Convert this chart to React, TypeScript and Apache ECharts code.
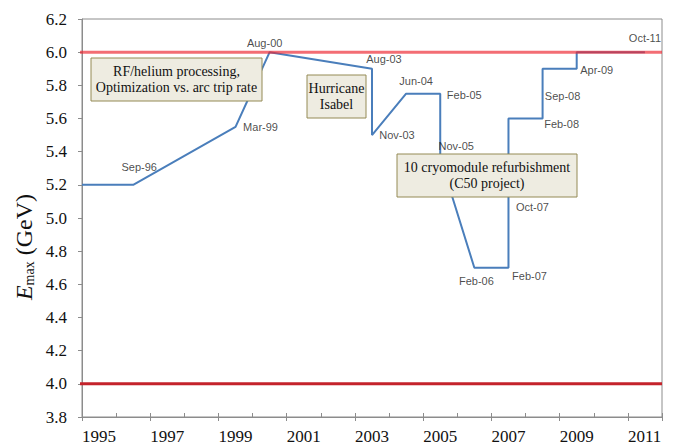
import React, { useEffect, useRef } from "react";
import * as echarts from "echarts";

// Beam energy history (x in years, y in GeV)
const lineX = [1995, 1996.5, 1999.5, 2000.5, 2003.5, 2003.5, 2004.5, 2005.5, 2005.5, 2006.5, 2007.5, 2007.5, 2008.5, 2008.5, 2009.5, 2009.5, 2011.5];
const lineY = [5.2, 5.2, 5.55, 6.0, 5.9, 5.5, 5.75, 5.75, 5.36, 4.7, 4.7, 5.6, 5.6, 5.9, 5.9, 6.0, 6.0];

// date labels and the vertex each one belongs to
const labelNames = ["Sep-96", "Mar-99", "Aug-00", "Aug-03", "Nov-03", "Jun-04", "Feb-05", "Nov-05", "Feb-06", "Feb-07", "Oct-07", "Feb-08", "Sep-08", "Apr-09", "Oct-11"];
const labelVertex = [1, 2, 3, 4, 5, 6, 7, 8, 9, 10, 11, 12, 13, 14, 16];

// reference levels
const designEnergy = 6.0;
const originalEnergy = 4.0;
const refLineX = [1994.65, 2012];

const yTicks = { min: 3.8, max: 6.2, step: 0.2 };
const xTicks = { min: 1995, max: 2012, step: 1 };

const annotations = [
  "RF/helium processing,\nOptimization vs. arc trip rate",
  "Hurricane\nIsabel",
  "10 cryomodule refurbishment\n(C50 project)",
];

export default function App() {
  const ref = useRef<HTMLDivElement>(null);
  useEffect(() => {
    if (!ref.current) return;
    const chart = echarts.init(ref.current, undefined, { renderer: "svg" });
    const serif = "Liberation Serif";
    const sans = "Liberation Sans";

    const labelOffsets: number[][] = [
      [6, -18], [25, 0], [-5, -9], [12, -10], [25, 0], [10, -13], [24, 1], [16, -12],
      [2, 13], [21, 8], [24, 88], [19, 5], [20, 27], [20, 1], [0, -14],
    ];

    const lineData = lineX.map((x, i) => [x, lineY[i]]);
    const labelData = labelNames.map((n, i) => ({
      value: [lineX[labelVertex[i]], lineY[labelVertex[i]]],
      name: n,
      label: { offset: labelOffsets[i] },
    }));

    const boxStyle = { fill: "#EEECE1", stroke: "#948A54", lineWidth: 1 };
    const boxText = (cx: number, cy: number, text: string) => ({
      type: "text",
      x: cx,
      y: cy,
      style: {
        text,
        align: "center",
        verticalAlign: "middle",
        fontFamily: serif,
        fontSize: 14,
        lineHeight: 16,
        fill: "#111",
      },
      z: 101,
    });

    chart.setOption({
      animation: false,
      grid: {
        left: 82,
        top: 19,
        right: 12,
        bottom: 28,
        show: true,
        borderColor: "#8c8c8c",
        borderWidth: 1,
      },
      xAxis: [
        {
          type: "value",
          min: xTicks.min,
          max: xTicks.max,
          interval: xTicks.step,
          axisLine: { lineStyle: { color: "#8c8c8c", width: 1 } },
          axisTick: { inside: true, length: 4, lineStyle: { color: "#8c8c8c" } },
          splitLine: { show: false },
          axisLabel: {
            margin: 11,
            align: "left",
            fontFamily: serif,
            fontSize: 17,
            color: "#111",
            formatter: (v: number) => (Math.round(v) % 2 === 1 && v < 2012 ? String(Math.round(v)) : ""),
          },
        },
        {
          type: "value",
          position: "bottom",
          min: 0,
          max: xTicks.max - xTicks.min,
          interval: 2,
          axisLine: { show: false },
          axisTick: { inside: false, length: 4, lineStyle: { color: "#8c8c8c" } },
          splitLine: { show: false },
          axisLabel: { show: false },
        },
      ],
      yAxis: {
        type: "value",
        min: yTicks.min,
        max: yTicks.max,
        interval: yTicks.step,
        axisLine: { show: true, lineStyle: { color: "#8c8c8c", width: 1 } },
        axisTick: { show: true, length: 4, lineStyle: { color: "#8c8c8c" } },
        splitLine: { show: false },
        axisLabel: {
          margin: 15,
          fontFamily: serif,
          fontSize: 17,
          color: "#111",
          formatter: (v: number) => v.toFixed(1),
        },
      },
      series: [
        {
          type: "line",
          data: refLineX.map((x) => [x, originalEnergy]),
          clip: false,
          symbol: "none",
          lineStyle: { color: "#C4232B", width: 3 },
          z: 3,
        },
        {
          type: "line",
          data: lineData,
          symbol: "none",
          lineStyle: { color: "#4A7EBB", width: 2 },
          z: 2,
        },
        {
          type: "line",
          data: refLineX.map((x) => [x, designEnergy]),
          clip: false,
          symbol: "none",
          lineStyle: { color: "rgb(238,40,50)", width: 3, opacity: 0.68 },
          z: 4,
        },
        {
          type: "scatter",
          data: labelData,
          symbolSize: 1,
          itemStyle: { color: "rgba(0,0,0,0)" },
          z: 5,
          label: {
            show: true,
            position: "inside",
            formatter: (p: any) => p.name,
            fontFamily: sans,
            fontSize: 11,
            color: "#1a1a1a",
          },
        },
      ],
      graphic: [
        {
          type: "text",
          x: 24,
          y: 247,
          rotation: Math.PI / 2,
          style: {
            text: "{e|E}{s|max}{g| (GeV)}",
            align: "center",
            verticalAlign: "middle",
            fill: "#111",
            rich: {
              e: { fontFamily: serif, fontStyle: "italic", fontSize: 24, lineHeight: 26, fill: "#111" },
              s: { fontFamily: serif, fontSize: 14, lineHeight: 26, padding: [10, 0, 0, 0], fill: "#111" },
              g: { fontFamily: serif, fontSize: 24, lineHeight: 26, fill: "#111" },
            },
          },
        },
        { type: "rect", shape: { x: 91, y: 58, width: 171, height: 43 }, style: boxStyle, z: 100 },
        boxText(176.5, 79.5, annotations[0]),
        { type: "rect", shape: { x: 307, y: 75, width: 59, height: 43 }, style: boxStyle, z: 100 },
        boxText(336.5, 96.5, annotations[1]),
        { type: "rect", shape: { x: 397, y: 154, width: 180, height: 43 }, style: boxStyle, z: 100 },
        boxText(487, 175.5, annotations[2]),
      ],
    });
    return () => chart.dispose();
  }, []);
  return (
    <div
      ref={ref}
      style={{ position: "fixed", left: 0, top: 0, width: 674, height: 445, background: "#fff" }}
    />
  );
}
